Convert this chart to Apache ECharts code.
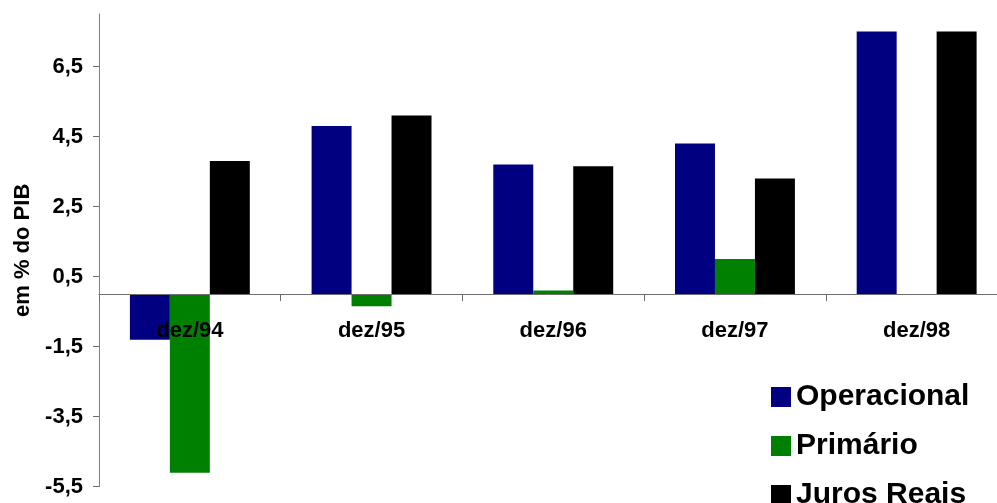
<!DOCTYPE html>
<html>
<head>
<meta charset="utf-8">
<script src="https://cdn.jsdelivr.net/npm/echarts@6/dist/echarts.min.js"></script>
<style>
  html, body { margin: 0; padding: 0; background: #ffffff; }
  #chart { width: 997px; height: 503px; }
</style>
</head>
<body>
<div id="chart"></div>
<script>
// Resultado fiscal (em % do PIB), dezembro de cada ano
const categories = ['dez/94', 'dez/95', 'dez/96', 'dez/97', 'dez/98'];
const operacional = [-1.3, 4.8, 3.7, 4.3, 7.5];
const primario = [-5.1, -0.35, 0.1, 1.0, 0];
const jurosReais = [3.8, 5.1, 3.65, 3.3, 7.5];
const yTicks = [-5.5, -3.5, -1.5, 0.5, 2.5, 4.5, 6.5];

const FONT = '"Liberation Sans", Arial, sans-serif';
const chart = echarts.init(document.getElementById('chart'), null, { renderer: 'canvas' });

const GRID = { left: 99, top: 14, right: -10.5, bottom: 16.3 };

chart.setOption({
  backgroundColor: '#ffffff',
  animation: false,
  textStyle: { fontFamily: FONT },
  grid: Object.assign({ containLabel: false, outerBoundsMode: 'none' }, GRID),
  legend: {
    orient: 'vertical',
    left: 766,
    top: 377,
    height: 200,
    icon: 'rect',
    itemWidth: 20,
    itemHeight: 20,
    itemGap: 19,
    textStyle: { fontFamily: FONT, fontSize: 30, fontWeight: 'bold', color: '#000', lineHeight: 30 },
    data: ['Operacional', 'Primário', 'Juros Reais']
  },
  xAxis: {
    type: 'category',
    data: categories,
    position: 'bottom',
    offset: 0,
    axisLine: { onZero: false, lineStyle: { color: '#6e6e6e', width: 1 } },
    axisTick: { show: true, length: 7, lineStyle: { color: '#6e6e6e' } },
    axisLabel: { margin: 26, fontFamily: FONT, fontSize: 22, fontWeight: 'bold', color: '#000' },
    z: 10
  },
  yAxis: {
    type: 'value',
    min: -5.5,
    max: 8,
    interval: 2,
    name: 'em % do PIB',
    nameLocation: 'middle',
    nameGap: 61,
    nameRotate: 90,
    nameTextStyle: { fontFamily: FONT, fontSize: 22, fontWeight: 'bold', color: '#000' },
    splitLine: { show: false },
    axisLine: { show: true, lineStyle: { color: '#808080', width: 1 } },
    axisTick: { show: true, length: 6, customValues: yTicks, lineStyle: { color: '#6e6e6e' } },
    axisLabel: {
      customValues: yTicks,
      margin: 16,
      fontFamily: FONT, fontSize: 22, fontWeight: 'bold', color: '#000',
      formatter: v => String(v).replace('.', ',')
    }
  },
  series: [
    { name: 'Operacional', type: 'bar', data: operacional, itemStyle: { color: '#000080' }, barGap: '0%', barCategoryGap: '34%' },
    { name: 'Primário', type: 'bar', data: primario, itemStyle: { color: '#008000' }, barGap: '0%', barCategoryGap: '34%' },
    { name: 'Juros Reais', type: 'bar', data: jurosReais, itemStyle: { color: '#000000' }, barGap: '0%', barCategoryGap: '34%' }
  ]
});

// Lift the category axis (line, ticks and labels) up to the zero line.
const zeroY = chart.convertToPixel({ yAxisIndex: 0 }, 0);
const bottomY = chart.convertToPixel({ yAxisIndex: 0 }, -5.5);
chart.setOption({ xAxis: { offset: zeroY - bottomY } });
</script>
</body>
</html>
